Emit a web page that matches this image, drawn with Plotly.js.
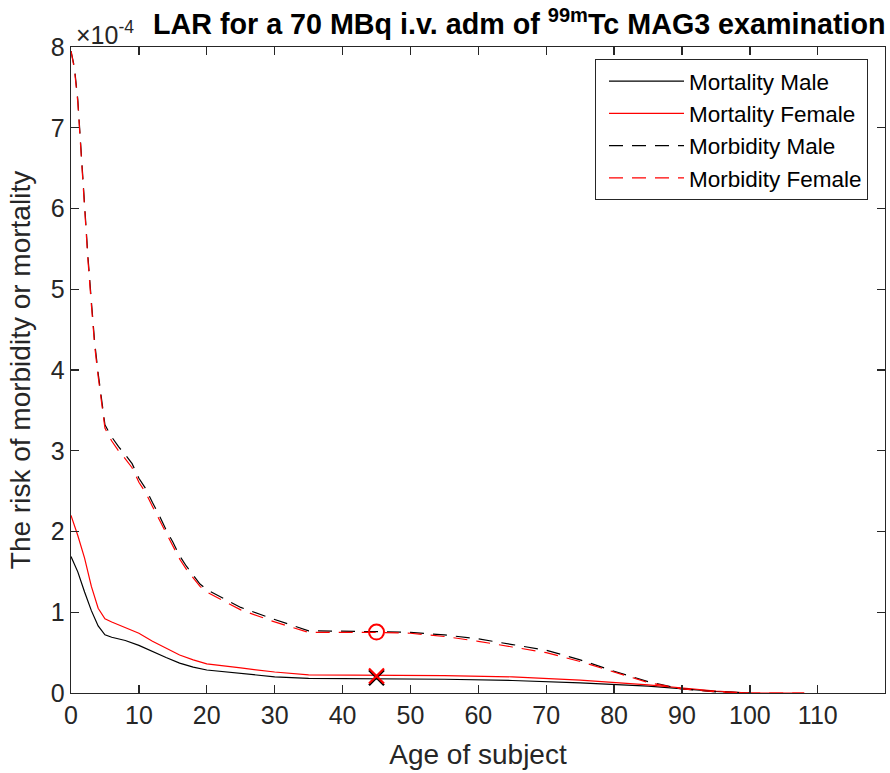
<!DOCTYPE html>
<html><head><meta charset="utf-8">
<script src="https://cdn.plot.ly/plotly-3.0.1.min.js"></script>
<style>body{margin:0;background:#fff}</style>
</head><body><div id="chart" style="width:890px;height:773px"></div>
<script>
// values are in units of 1e-4
const agesMorbMale = [0,0.5,1,1.5,2,2.5,3,3.5,4,4.5,5,6,7,8,9,10,11,12,13,14,15,16,17,18,19,20,25,30,35,45,50,55,60,65,70,75,80,85,90,95,100];
const morbMale =     [7.95,7.75,7.35,6.7,6.0,5.4,4.85,4.33,3.96,3.6,3.32,3.17,3.05,2.95,2.84,2.66,2.53,2.36,2.2,2.02,1.87,1.7,1.57,1.46,1.35,1.28,1.06,0.91,0.77,0.76,0.75,0.72,0.67,0.6,0.53,0.41,0.27,0.14,0.05,0.015,0];
const agesMorbFemale = [0,0.5,1,1.5,2,2.5,3,3.5,4,4.5,5,6,7,8,9,10,11,12,13,14,15,16,17,18,19,20,25,30,35,45,50,55,60,65,70,75,80,85,90,95,100,105,108];
const morbFemale =     [7.95,7.73,7.32,6.66,5.96,5.36,4.81,4.29,3.92,3.56,3.28,3.12,3.0,2.9,2.79,2.61,2.48,2.31,2.15,1.97,1.82,1.66,1.53,1.42,1.32,1.25,1.03,0.88,0.75,0.75,0.74,0.7,0.64,0.57,0.5,0.39,0.26,0.13,0.05,0.015,0,0,0];
const agesMortMale = [0,1,2,3,4,5,6,8,10,12,14,16,18,20,25,30,35,45,55,65,75,85,90,95,100];
const mortMale =     [1.69,1.5,1.25,1.02,0.83,0.72,0.69,0.65,0.59,0.52,0.44,0.37,0.32,0.285,0.24,0.2,0.18,0.175,0.17,0.155,0.125,0.085,0.05,0.02,0];
const agesMortFemale = [0,1,2,3,4,5,6,8,10,12,14,16,18,20,25,30,35,45,55,65,75,85,90,95,100,105,108];
const mortFemale =     [2.2,1.95,1.67,1.32,1.05,0.92,0.88,0.81,0.74,0.64,0.55,0.47,0.41,0.36,0.31,0.26,0.225,0.22,0.215,0.2,0.16,0.1,0.06,0.025,0,0,0];
// highlighted points at age 45
const markAge = [45];
const markMorb = [0.755];
const markMortMale = [0.19];
const markMortFemale = [0.21];

const xTicks = [0,10,20,30,40,50,60,70,80,90,100,110];
const yTicks = [0,1,2,3,4,5,6,7,8];

const FONT = 'Liberation Sans, Arial, Helvetica, sans-serif';
const AX = '#262626';

const traces = [
  {x: agesMortMale, y: mortMale, name: 'Mortality Male', legendgroup: 'a', mode: 'lines', line: {color: '#000000', width: 1.2}},
  {x: agesMortFemale, y: mortFemale, name: 'Mortality Female', legendgroup: 'b', mode: 'lines', line: {color: '#ff0000', width: 1.2}},
  {x: agesMorbMale, y: morbMale, name: 'Morbidity Male', legendgroup: 'c', mode: 'lines', line: {color: '#000000', width: 1.2, dash: '14px,9px'}},
  {x: agesMorbFemale, y: morbFemale, name: 'Morbidity Female', legendgroup: 'd', mode: 'lines', line: {color: '#ff0000', width: 1.2, dash: '14px,9px'}},
  {x: markAge, y: markMorb, mode: 'markers', showlegend: false, marker: {symbol: 'circle-open', size: 15, color: '#ff0000', line: {width: 2, color: '#ff0000'}}},
  {x: markAge, y: markMortMale, mode: 'markers', showlegend: false, marker: {symbol: 'x-thin-open', size: 15, color: '#000000', line: {width: 2.2, color: '#000000'}}},
  {x: markAge, y: markMortFemale, mode: 'markers', showlegend: false, marker: {symbol: 'x-thin-open', size: 15, color: '#ff0000', line: {width: 2.2, color: '#ff0000'}}}
];

const layout = {
  width: 890, height: 773,
  margin: {l: 71, r: 5, t: 47, b: 80, pad: 0},
  paper_bgcolor: '#ffffff', plot_bgcolor: '#ffffff',
  font: {family: FONT, color: AX, size: 24},
  showlegend: true,
  title: {
    text: 'LAR for a 70 MBq i.v. adm of <sup>99m</sup>Tc MAG3 examination',
    font: {family: FONT, size: 28.7, weight: 'bold', color: '#000000'},
    xref: 'container', x: 153/890, xanchor: 'left',
    yref: 'container', y: 1 - 24/773, yanchor: 'middle'
  },
  xaxis: {
    range: [0, 119.9], tickvals: xTicks, ticktext: xTicks.map(String),
    ticks: 'inside', ticklen: 8, tickwidth: 1.3, tickcolor: AX,
    showline: true, linecolor: AX, linewidth: 1.3, mirror: 'ticks',
    showgrid: false, zeroline: false,
    tickfont: {size: 25, color: AX},
    title: {text: 'Age of subject', font: {size: 28, color: AX}, standoff: 16}
  },
  yaxis: {
    range: [0, 8], tickvals: yTicks, ticktext: yTicks.map(String),
    ticks: 'inside', ticklen: 8, tickwidth: 1.3, tickcolor: AX,
    showline: true, linecolor: AX, linewidth: 1.3, mirror: 'ticks',
    showgrid: false, zeroline: false,
    tickfont: {size: 25, color: AX},
    title: {text: 'The risk of morbidity or mortality', font: {size: 28, color: AX}, standoff: 12}
  },
  legend: {
    x: (868-71)/814, xanchor: 'right', y: (693-59)/646, yanchor: 'top',
    bgcolor: '#ffffff', bordercolor: AX, borderwidth: 1,
    font: {size: 22.5, color: '#000000'}, itemwidth: 75, tracegroupgap: 0,
    indentation: 8, traceorder: 'normal'
  },
  annotations: [{
    xref: 'paper', yref: 'paper', x: 0, y: 1, xanchor: 'left', yanchor: 'bottom',
    text: '\u00d710<sup>-4</sup>', showarrow: false, font: {size: 25, color: AX}, xshift: 3, yshift: -4
  }]
};

Plotly.newPlot('chart', traces, layout, {displayModeBar: false, staticPlot: true});
</script>
</body></html>
